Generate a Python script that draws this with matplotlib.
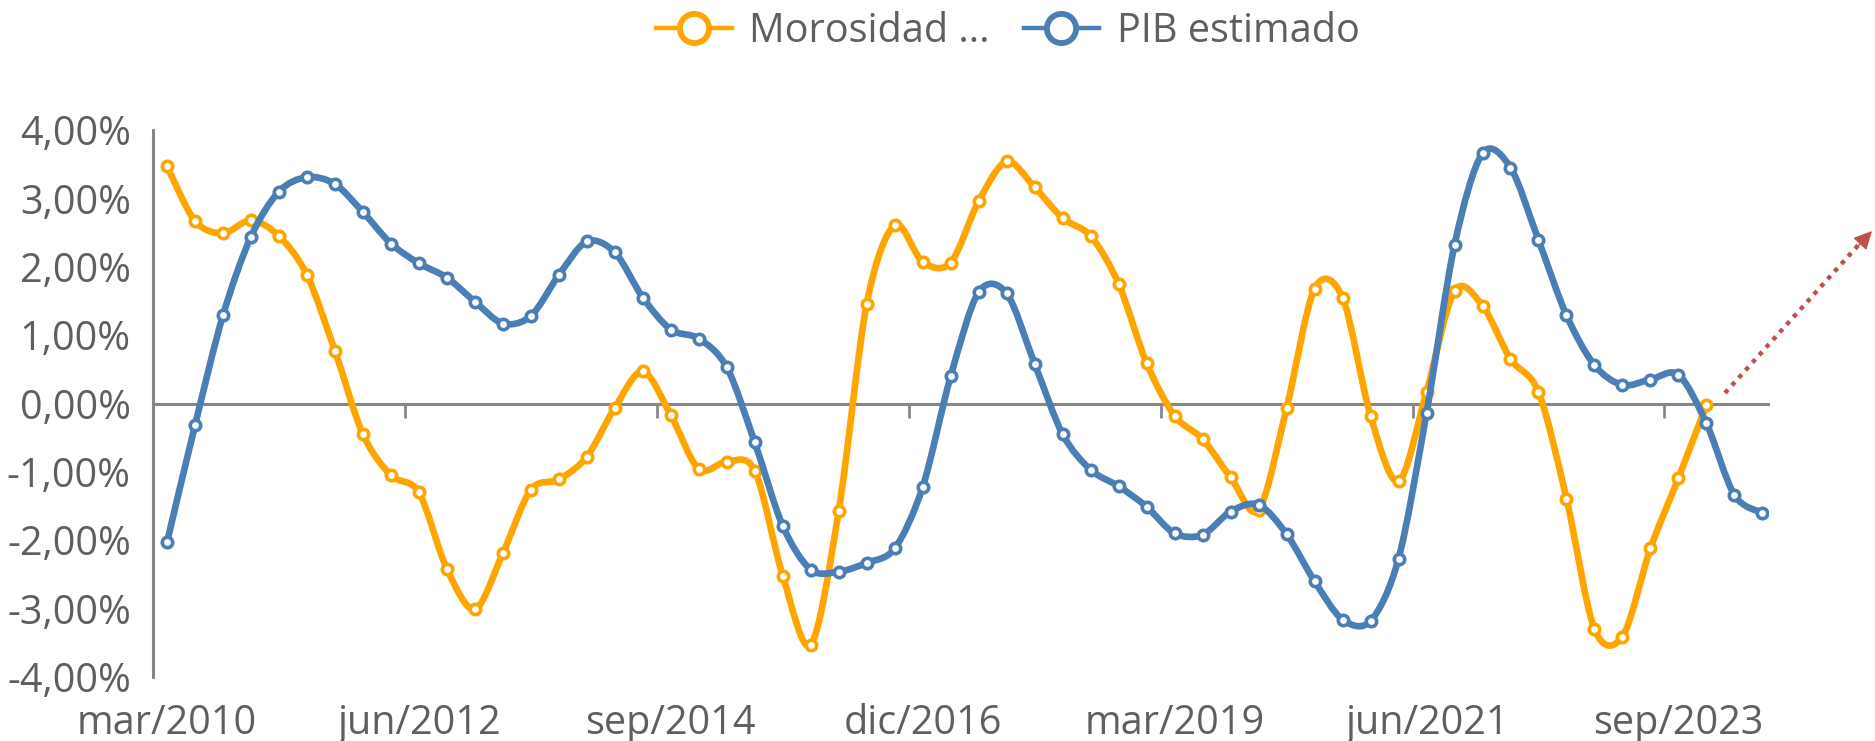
import numpy as np
import matplotlib
matplotlib.use("Agg")
import matplotlib.pyplot as plt
from matplotlib.path import Path
from matplotlib.patches import PathPatch
from matplotlib.lines import Line2D
from matplotlib.ticker import FuncFormatter

# ---------------- data (quarterly, mar/2010 ... jun/2024) ----------------
morosidad = [3.47, 2.67, 2.49, 2.68, 2.45, 1.88, 0.77, -0.45, -1.05, -1.30,
             -2.42, -3.01, -2.19, -1.26, -1.11, -0.78, -0.06, 0.47, -0.17, -0.96,
             -0.85, -0.98, -2.52, -3.53, -1.57, 1.46, 2.61, 2.07, 2.06, 2.96,
             3.54, 3.16, 2.71, 2.45, 1.75, 0.59, -0.18, -0.52, -1.08, -1.56,
             -0.07, 1.68, 1.55, -0.18, -1.14, 0.17, 1.65, 1.43, 0.65, 0.17,
             -1.39, -3.30, -3.41, -2.12, -1.09, -0.02]
pib = [-2.03, -0.32, 1.29, 2.44, 3.10, 3.31, 3.21, 2.80, 2.34, 2.05,
       1.84, 1.49, 1.17, 1.28, 1.88, 2.37, 2.21, 1.55, 1.08, 0.95,
       0.53, -0.57, -1.79, -2.43, -2.46, -2.33, -2.12, -1.22, 0.40, 1.63,
       1.61, 0.58, -0.45, -0.97, -1.21, -1.51, -1.90, -1.92, -1.58, -1.48,
       -1.91, -2.60, -3.16, -3.18, -2.27, -0.14, 2.32, 3.66, 3.45, 2.39,
       1.29, 0.56, 0.27, 0.35, 0.42, -0.29, -1.34, -1.60]
tick_labels = ["mar/2010", "jun/2012", "sep/2014", "dic/2016",
               "mar/2019", "jun/2021", "sep/2023"]
series_names = ["Morosidad ...", "PIB estimado"]

ORANGE = "#FFA500"
BLUE = "#4A7EB5"
GRAY = "#878787"
TEXT = "#5F5F5F"
FS = 28.5

plt.rcParams["font.family"] = ["Open Sans", "DejaVu Sans"]

W, H = 1875, 741
fig = plt.figure(figsize=(W / 100, H / 100), dpi=100)
left, right = 153 / W, 1768 / W
bottom, top = (H - 677) / H, (H - 130) / H
ax = fig.add_axes([left, bottom, right - left, top - bottom])


def smooth_path(xs, ys, k=6.5):
    n = len(xs)
    verts = [(xs[0], ys[0])]
    codes = [Path.MOVETO]
    for i in range(n - 1):
        p0 = i - 1 if i > 0 else i
        p3 = i + 2 if i + 2 < n else i + 1
        c1 = (xs[i] + (xs[i + 1] - xs[p0]) / k, ys[i] + (ys[i + 1] - ys[p0]) / k)
        c2 = (xs[i + 1] - (xs[p3] - xs[i]) / k, ys[i + 1] - (ys[p3] - ys[i]) / k)
        verts += [c1, c2, (xs[i + 1], ys[i + 1])]
        codes += [Path.CURVE4] * 3
    return Path(verts, codes)


for vals, color, z in [(morosidad, ORANGE, 2), (pib, BLUE, 4)]:
    xs = np.arange(len(vals))
    patch = PathPatch(smooth_path(xs, vals), facecolor="none", edgecolor=color,
                      lw=4.8, capstyle="round", joinstyle="round", zorder=z)
    ax.add_patch(patch)
    ax.plot(xs, vals, linestyle="none", marker="o", ms=7.5, mfc="white",
            mec=color, mew=2.6, zorder=z + 0.5)

n_cat = len(pib)
ax.set_xlim(-0.5, 57.2)
ax.set_ylim(-4, 4)
ax.set_yticks(np.arange(-4, 5, 1))
ax.yaxis.set_major_formatter(FuncFormatter(lambda v, p: f"{v:.2f}".replace(".", ",") + "%"))
ax.tick_params(axis="y", length=0, pad=16, labelsize=FS, labelcolor=TEXT)

for s in ["top", "right"]:
    ax.spines[s].set_visible(False)
ax.spines["left"].set_color(GRAY)
ax.spines["left"].set_linewidth(2.2)
ax.spines["bottom"].set_position(("data", 0))
ax.spines["bottom"].set_color(GRAY)
ax.spines["bottom"].set_linewidth(2.2)
ax.spines["bottom"].set_zorder(1)

# tick marks between categories on the zero line
ax.set_xticks(np.arange(8.5, n_cat, 9))
ax.set_xticklabels([])
ax.tick_params(axis="x", length=10, width=2, color=GRAY, direction="out")

# category labels at the bottom of the plot
sec = ax.secondary_xaxis(0.0)
sec.set_xticks(np.arange(0, 9 * len(tick_labels), 9))
sec.set_xticklabels(tick_labels)
sec.tick_params(length=0, pad=19, labelsize=FS, labelcolor=TEXT)
sec.spines["bottom"].set_visible(False)

# legend
handles = [Line2D([], [], color=c, lw=3.2, marker="o", ms=21, mfc="white", mec=c, mew=4.2)
           for c in (ORANGE, BLUE)]
fig.legend(handles, series_names, loc="center", bbox_to_anchor=(1008 / W, 1 - 32 / H),
           ncol=2, frameon=False, fontsize=FS, labelcolor=TEXT, handlelength=1.9,
           handletextpad=0.45, columnspacing=0.85, borderaxespad=0, borderpad=0)

# dotted red arrow annotation
x0, y0 = 1725 / W, 1 - 393 / H
x1, y1 = 1862 / W, 1 - 241 / H
fig.add_artist(Line2D([x0, x1], [y0, y1], transform=fig.transFigure, color="#C0504D",
                      lw=3.2, linestyle=(0, (1, 1.3))))
ax.annotate("", xy=(1872 / W, 1 - 231 / H), xytext=(1858 / W, 1 - 246 / H),
            xycoords="figure fraction", textcoords="figure fraction",
            arrowprops=dict(arrowstyle="-|>", color="#C0504D", lw=1, mutation_scale=28,
                            shrinkA=0, shrinkB=0))

fig.savefig("out.png", dpi=100)
